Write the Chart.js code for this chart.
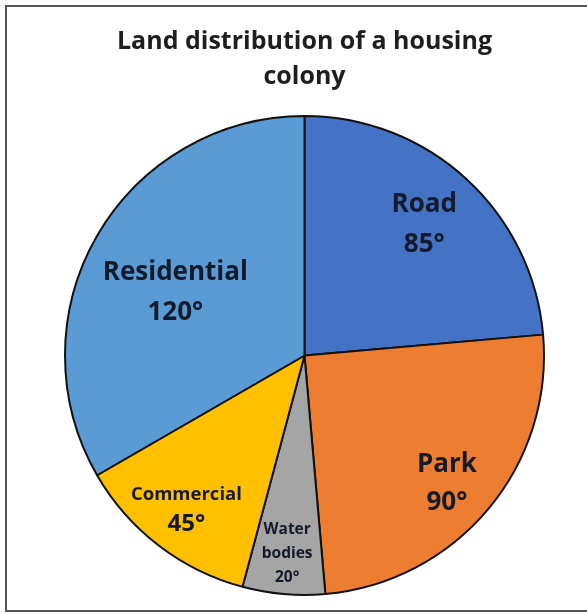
<!DOCTYPE html>
<html>
<head>
<meta charset="utf-8">
<script src="https://cdn.jsdelivr.net/npm/chart.js@4.4.1/dist/chart.umd.min.js"></script>
<style>
  html, body { margin: 0; padding: 0; background: #fff; }
  #wrap { position: relative; width: 587px; height: 613px; overflow: hidden; }
  #frame {
    position: absolute; left: 5px; top: 5px; width: 600px; height: 603px;
    border: 2px solid #555; pointer-events: none;
  }
</style>
</head>
<body>
<div id="wrap">
  <canvas id="pie" width="587" height="613"></canvas>
  <div id="frame"></div>
</div>
<script>
// Data
const categories = ['Road', 'Park', 'Water bodies', 'Commercial', 'Residential'];
const degrees = [85, 90, 20, 45, 120];
const sliceColors = ['#4472C4', '#ED7D31', '#A5A5A5', '#FFC000', '#5B9BD5'];
const titleLines = ['Land distribution of a housing', 'colony'];

// label layout per slice (radius fraction, angle shift in deg, font sizes, line gap)
const labelStyle = [
    { frac: 0.74, shift: 0,  name: 26, num: 26, gap: 40 },
    { frac: 0.80, shift: 2,  name: 26, num: 26, gap: 38 },
    { frac: 0.83, shift: 0,  name: 15.5, num: 15.5, gap: 24 },
    { frac: 0.81, shift: 0,  name: 18.5, num: 24, gap: 29 },
    { frac: 0.60, shift: -4, name: 26, num: 26, gap: 40 }
];

// draws the name + degree text inside each slice
const sliceLabels = {
    id: 'sliceLabels',
    afterDatasetsDraw(chart) {
        const ctx = chart.ctx;
        const arcs = chart.getDatasetMeta(0).data;
        ctx.save();
        ctx.textAlign = 'center';
        ctx.textBaseline = 'middle';
        ctx.fillStyle = '#141a2a';
        arcs.forEach((arc, i) => {
            const p = arc.getProps(['x', 'y', 'startAngle', 'endAngle', 'outerRadius'], true);
            const st = labelStyle[i];
            const mid = (p.startAngle + p.endAngle) / 2 + st.shift * Math.PI / 180;
            const cx = p.x + Math.cos(mid) * p.outerRadius * st.frac;
            const cy = p.y + Math.sin(mid) * p.outerRadius * st.frac;
            const lines = categories[i].split(' ').map(t => ({ text: t, size: st.name }));
            lines.push({ text: degrees[i] + '°', size: st.num });
            const top = cy - (lines.length - 1) * st.gap / 2;
            lines.forEach((ln, k) => {
                ctx.font = 'bold ' + ln.size + 'px "Open Sans"';
                ctx.fillText(ln.text, cx, top + k * st.gap);
            });
        });
        ctx.restore();
    }
};

const ctx = document.getElementById('pie').getContext('2d');
new Chart(ctx, {
    type: 'pie',
    data: {
        labels: categories,
        datasets: [{
            data: degrees,
            backgroundColor: sliceColors,
            borderColor: '#111',
            borderWidth: 2
        }]
    },
    options: {
        responsive: false,
        animation: false,
        layout: { padding: { left: 64, right: 42, top: 0, bottom: 17 } },
        plugins: {
            legend: { display: false },
            tooltip: { enabled: false },
            title: {
                display: true,
                text: titleLines,
                color: '#1e1e1e',
                font: { family: 'Open Sans', size: 25, weight: 'bold', lineHeight: 1.4 },
                padding: { top: 24, bottom: 21 }
            }
        }
    },
    plugins: [sliceLabels]
});
</script>
</body>
</html>
